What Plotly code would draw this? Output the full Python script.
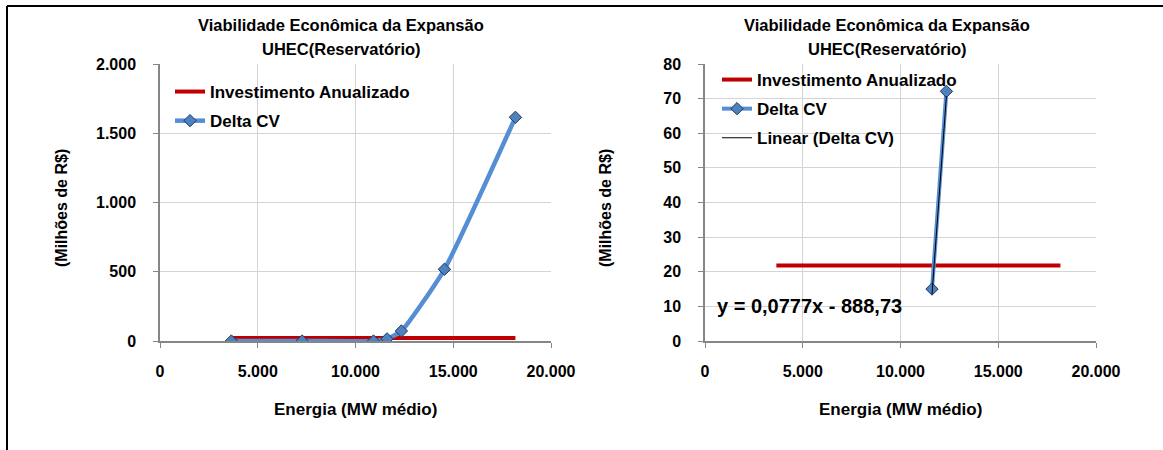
import plotly.graph_objects as go

# ---- data -------------------------------------------------------------
energia = [3650, 7270, 10920, 11612, 12347, 14550, 18180]          # MW médio
delta_cv = [0, 0, 0, 15.0, 72.1, 518, 1615]                         # milhões de R$
investimento = [21.8, 21.8, 21.8, 21.8, 21.8, 21.8, 21.8]            # milhões de R$

# detail panel: only the points around the crossing
energia_det = energia[3:5]
delta_cv_det = delta_cv[3:5]

# linear trend of Delta CV in the detail panel
trend_slope = 0.0777
trend_intercept = -888.73
trend_y = [trend_slope * x + trend_intercept for x in energia_det]

title_lines = ["Viabilidade Econômica da Expansão", "UHEC(Reservatório)"]
x_title = "Energia (MW médio)"
y_title = "(Milhões de R$)"
series_names = ["Investimento Anualizado", "Delta CV", "Linear (Delta CV)"]

# ---- styling ----------------------------------------------------------
W, H = 1163, 450
FONT = "Liberation Sans, Arial, sans-serif"
RED = "#C00000"
BLUE = "#558ED5"
MARK_FILL = "#4F81BD"
MARK_EDGE = "#1F3864"
GRID = "#D4D4D4"
AXIS = "#868686"


def px_x(p):
    return p / W


def px_y(p):
    return 1 - p / H


def bold(size):
    return dict(family=FONT, size=size, color="black", weight="bold")


fig = go.Figure()

marker = dict(symbol="diamond", size=9.5, color=MARK_FILL,
              line=dict(color=MARK_EDGE, width=1))

# left panel
fig.add_trace(go.Scatter(x=energia, y=investimento, mode="lines",
                         name=series_names[0], line=dict(color=RED, width=4),
                         xaxis="x", yaxis="y", legend="legend",
                         legendgroup="a"))
fig.add_trace(go.Scatter(x=energia, y=delta_cv, mode="lines+markers",
                         name=series_names[1],
                         line=dict(color=BLUE, width=4.5, shape="spline",
                                   smoothing=0.5),
                         marker=marker, xaxis="x", yaxis="y",
                         legend="legend", legendgroup="b"))

# right panel
fig.add_trace(go.Scatter(x=energia, y=investimento, mode="lines",
                         name=series_names[0], line=dict(color=RED, width=4),
                         xaxis="x2", yaxis="y2", legend="legend2",
                         legendgroup="c"))
fig.add_trace(go.Scatter(x=energia_det, y=delta_cv_det, mode="lines+markers",
                         name=series_names[1], line=dict(color=BLUE, width=4),
                         marker=marker, xaxis="x2", yaxis="y2",
                         legend="legend2", legendgroup="d"))
fig.add_trace(go.Scatter(x=energia_det, y=trend_y, mode="lines",
                         name=series_names[2], line=dict(color="black", width=1),
                         xaxis="x2", yaxis="y2", legend="legend2",
                         legendgroup="e"))

common_x = dict(range=[0, 20000], dtick=5000, tick0=0, tickformat=",d",
                showgrid=True, gridcolor=GRID, gridwidth=1,
                showline=True, linecolor=AXIS, linewidth=1.5,
                ticks="outside", ticklen=5, tickcolor=AXIS,
                tickfont=bold(16), zeroline=False, fixedrange=True,
                automargin=False, ticklabelstandoff=10)
common_y = dict(showgrid=True, gridcolor=GRID, gridwidth=1,
                showline=True, linecolor=AXIS, linewidth=1.5,
                ticks="outside", ticklen=5, tickcolor=AXIS,
                tickfont=bold(16), zeroline=False, fixedrange=True,
                automargin=False, tickformat=",d", ticklabelstandoff=14)

y_dom = [px_y(341), px_y(64)]
fig.update_layout(
    width=W, height=H, autosize=False,
    margin=dict(l=0, r=0, t=0, b=0, pad=0, autoexpand=False),
    paper_bgcolor="white", plot_bgcolor="white",
    separators=",.",
    font=dict(family=FONT, color="black"),
    xaxis=dict(domain=[px_x(160), px_x(551)], anchor="y", **common_x),
    yaxis=dict(domain=y_dom, anchor="x", range=[0, 2000], dtick=500, **common_y),
    xaxis2=dict(domain=[px_x(705), px_x(1096)], anchor="y2", **common_x),
    yaxis2=dict(domain=y_dom, anchor="x2", range=[0, 80], dtick=10, **common_y),
    legend=dict(x=px_x(170), y=px_y(74), xanchor="left", yanchor="top",
                bgcolor="rgba(0,0,0,0)", itemwidth=30, traceorder="grouped",
                tracegroupgap=4, font=bold(17)),
    legend2=dict(x=px_x(717), y=px_y(62), xanchor="left", yanchor="top",
                 bgcolor="rgba(0,0,0,0)", itemwidth=30, traceorder="grouped",
                 tracegroupgap=4, font=bold(17)),
)

annotations = []
for cx in (341, 887):
    for text, cy in zip(title_lines, (25, 49)):
        annotations.append(dict(text=text, x=px_x(cx), y=px_y(cy),
                                xref="paper", yref="paper", showarrow=False,
                                xanchor="center", yanchor="middle",
                                font=bold(16.5)))
for xd in ("x domain", "x2 domain"):
    annotations.append(dict(text=x_title, x=0.5, y=px_y(409), xref=xd,
                            yref="paper", showarrow=False, xanchor="center",
                            yanchor="middle", font=bold(17)))
for cx in (61, 605):
    annotations.append(dict(text=y_title, x=px_x(cx), y=px_y(208), xref="paper",
                            yref="paper", showarrow=False, textangle=-90,
                            xanchor="center", yanchor="middle", font=bold(16)))
# regression equation label
sign = "-" if trend_intercept < 0 else "+"
eq_text = "y = {}x {} {}".format(
    f"{trend_slope:.4f}".replace(".", ","), sign,
    f"{abs(trend_intercept):.2f}".replace(".", ","))
annotations.append(dict(text=eq_text, x=5350, y=10.1, xref="x2", yref="y2",
                        showarrow=False, xanchor="center", yanchor="middle",
                        font=bold(20)))
fig.update_layout(annotations=annotations)

# outer frame (top and left edges)
frame = dict(type="line", xref="paper", yref="paper",
             line=dict(color="black", width=2))
fig.add_shape(x0=px_x(7), y0=px_y(6), x1=1, y1=px_y(6), **frame)
fig.add_shape(x0=px_x(7), y0=px_y(6), x1=px_x(7), y1=0, **frame)

fig.write_html("out.html")
